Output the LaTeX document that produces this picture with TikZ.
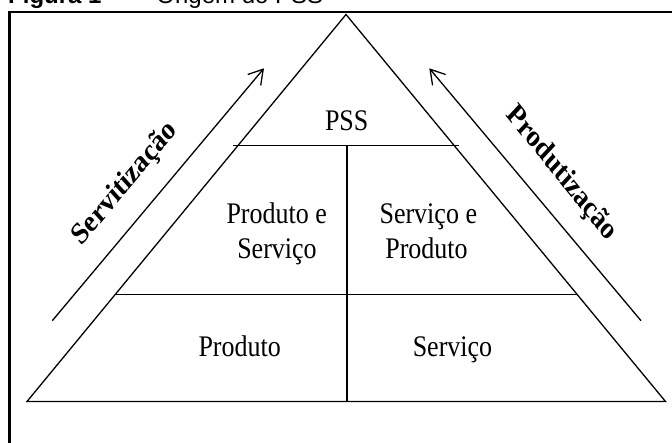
\documentclass[tikz,border=0pt]{standalone}
\usepackage{fontspec}
\setmainfont{Liberation Serif}
\newfontfamily\capfont{Liberation Sans}
\usetikzlibrary{arrows.meta}
\tikzset{
  shapeline/.style={line width=1.3pt, line join=miter},
  frameline/.style={line width=2.4pt},
  flow/.style={line width=1.3pt, -{Straight Barb[length=14pt,width=17pt,line width=1.3pt]}},
  lbl/.style={font=\fontsize{26}{30}\selectfont, inner sep=0pt, anchor=base, yscale=1.15, transform shape},
  sidelbl/.style={font=\bfseries\fontsize{26.5}{30}\selectfont, inner sep=0pt, transform shape},
  caplbl/.style={font=\capfont\fontsize{24}{28}\selectfont, inner sep=0pt, anchor=base west}
}
\begin{document}
\begin{tikzpicture}[x=1pt,y=-1pt]
\useasboundingbox (0,0) rectangle (672,443);
% frame
\coordinate (f1) at (9.5,470);
\coordinate (f2) at (9.5,12);
\coordinate (f3) at (700,12);
\draw[frameline] (f1) -- (f2) -- (f3);
% caption (cut by top edge)
\node[caplbl] (cap) at (8,4) {\textbf{Figura 1}\hspace{14.6pt}–\hspace{27pt}Origem do PSS};
% triangle
\coordinate (apex) at (346,14.5);
\coordinate (bl) at (27,401.5);
\coordinate (br) at (665.5,401.5);
\draw[shapeline] (apex) -- (br) -- (bl) -- cycle;
% dividers
\coordinate (pl) at (233,145.5);
\coordinate (pr) at (458.5,145.5);
\coordinate (ml) at (115,294.5);
\coordinate (mr) at (576.5,294.5);
\coordinate (dt) at (347,145.5);
\coordinate (db) at (347,401.5);
\draw[shapeline] (pl) -- (pr);
\draw[shapeline] (ml) -- (mr);
\draw[shapeline] (dt) -- (db);
% arrows
\coordinate (a1s) at (52.3,320.7);
\coordinate (a1e) at (264,68.3);
\coordinate (a2s) at (641,320.7);
\coordinate (a2e) at (429.3,68.3);
\draw[flow] (a1s) -- (a1e);
\draw[flow] (a2s) -- (a2e);
% labels
\node[lbl] (pss) at (346.7,130.7) {PSS};
\node[lbl] (ps1) at (276.7,223.3) {Produto e};
\node[lbl] (ps2) at (277,258.3) {Serviço};
\node[lbl] (sp1) at (428.3,223.3) {Serviço e};
\node[lbl] (sp2) at (426.5,258.3) {Produto};
\node[lbl] (prod) at (239.7,357) {Produto};
\node[lbl] (serv) at (452.5,357) {Serviço};
\node[sidelbl, yscale=1.15, rotate=46] (servt) at (125,184) {Servitização};
\node[sidelbl, yscale=1.15, rotate=-47] (prodt) at (561.5,173.5) {Produtização};
\end{tikzpicture}
\end{document}
